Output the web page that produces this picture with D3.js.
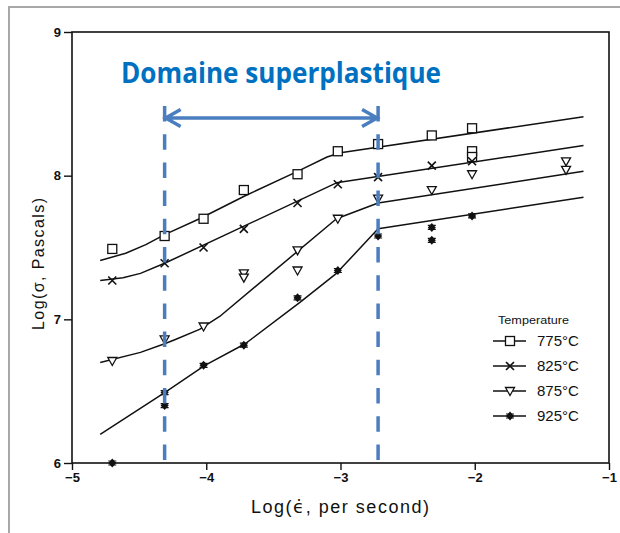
<!DOCTYPE html>
<html>
<head>
<meta charset="utf-8">
<script src="https://cdn.jsdelivr.net/npm/d3@7/dist/d3.min.js"></script>
<style>
  body { margin: 0; background: #fff; }
  svg { display: block; font-family: 'Liberation Sans', Arial, sans-serif; }
</style>
</head>
<body>
<div id="vis"></div>
<script>
// temperatures in the legend
var temps = ['775°C', '825°C', '875°C', '925°C'];
var markerKinds = ['square', 'cross', 'triangle', 'dot'];

// measured points [log strain rate, log stress]
var pts775 = [[-4.70, 7.49], [-4.31, 7.58], [-4.02, 7.70], [-3.72, 7.90], [-3.32, 8.01],
  [-3.02, 8.17], [-2.72, 8.22], [-2.32, 8.28], [-2.02, 8.33], [-2.02, 8.17], [-2.02, 8.13]];
var pts825 = [[-4.70, 7.27], [-4.31, 7.39], [-4.02, 7.50], [-3.72, 7.63], [-3.32, 7.81],
  [-3.02, 7.94], [-2.72, 7.99], [-2.32, 8.07], [-2.02, 8.10]];
var pts875 = [[-4.70, 6.71], [-4.31, 6.86], [-4.02, 6.95], [-3.72, 7.32], [-3.72, 7.29],
  [-3.32, 7.48], [-3.32, 7.34], [-3.02, 7.70], [-2.72, 7.84], [-2.32, 7.90], [-2.02, 8.01],
  [-1.32, 8.10], [-1.32, 8.04]];
var pts925 = [[-4.70, 6.00], [-4.31, 6.49], [-4.31, 6.40], [-4.02, 6.68], [-3.72, 6.82],
  [-3.32, 7.15], [-3.02, 7.34], [-2.72, 7.58], [-2.32, 7.64], [-2.32, 7.55], [-2.02, 7.72]];

// fitted curves
var fit775 = [[-4.79, 7.41], [-4.60, 7.46], [-4.45, 7.52], [-4.31, 7.59], [-4.05, 7.70],
  [-3.71, 7.86], [-3.32, 8.03], [-3.10, 8.13], [-3.00, 8.16], [-1.19, 8.41]];
var fit825 = [[-4.79, 7.27], [-4.62, 7.29], [-4.49, 7.32], [-4.31, 7.39], [-3.03, 7.95],
  [-1.19, 8.21]];
var fit875 = [[-4.79, 6.70], [-4.49, 6.77], [-4.31, 6.83], [-4.23, 6.86], [-4.05, 6.93],
  [-3.90, 7.02], [-3.03, 7.70], [-2.72, 7.81], [-1.19, 8.03]];
var fit925 = [[-4.79, 6.20], [-4.31, 6.49], [-4.01, 6.68], [-3.71, 6.83], [-3.30, 7.12],
  [-3.03, 7.32], [-2.72, 7.63], [-1.19, 7.85]];

var xTicks = [-5, -4, -3, -2, -1];
var yTicks = [6, 7, 8, 9];
var superBounds = [-4.31, -2.72];

var series = [
  {pts: pts775, fit: fit775},
  {pts: pts825, fit: fit825},
  {pts: pts875, fit: fit875},
  {pts: pts925, fit: fit925},
];

var width = 620;
var height = 533;
var ink = '#111';
var blue = '#4a7ebf';

var svg = d3.select('#vis').append('svg')
  .attr('width', width)
  .attr('height', height);

// grey border of the slide picture
svg.append('path')
  .attr('d', 'M9,540 L9,7 L630,7')
  .attr('fill', 'none')
  .attr('stroke', '#a8a8a8')
  .attr('stroke-width', 2);

var x = d3.scaleLinear().domain([-5, -1]).range([72, 609]);
var y = d3.scaleLinear().domain([6, 9]).range([463, 32]);

// frame
svg.append('rect')
  .attr('x', x(-5))
  .attr('y', y(9))
  .attr('width', x(-1) - x(-5))
  .attr('height', y(6) - y(9))
  .attr('fill', 'none')
  .attr('stroke', ink)
  .attr('stroke-width', 1.6);

function fmt(d) {
  return String(d).replace('-', '\u2212');
}

var xAxis = svg.append('g')
  .attr('transform', `translate(0,${y(6)})`)
  .call(d3.axisBottom(x).tickValues(xTicks).tickSize(7).tickPadding(3).tickFormat(fmt));
var yAxis = svg.append('g')
  .attr('transform', `translate(${x(-5)},0)`)
  .call(d3.axisLeft(y).tickValues(yTicks).tickSize(8).tickPadding(3).tickFormat(fmt));

[xAxis, yAxis].forEach(function(g) {
  g.select('.domain').remove();
  g.selectAll('line').attr('stroke', ink).attr('stroke-width', 1.4);
  g.selectAll('text')
    .attr('fill', ink)
    .style('font-size', '13px')
    .style('font-weight', 'bold')
    .style('font-family', "'Liberation Sans', Arial, sans-serif");
});

// axis titles
var xTitle = svg.append('text')
  .attr('x', 340)
  .attr('y', 513)
  .attr('text-anchor', 'middle')
  .attr('fill', ink)
  .attr('textLength', 178)
  .attr('lengthAdjust', 'spacing')
  .style('font-size', '18px');
xTitle.append('tspan').text('Log(');
xTitle.append('tspan').style('font-family', "'DejaVu Sans', sans-serif").text('\u03f5\u0307');
xTitle.append('tspan').text(', per second)');

svg.append('text')
  .attr('transform', 'translate(44,264) rotate(-90)')
  .attr('text-anchor', 'middle')
  .attr('fill', ink)
  .attr('textLength', 132)
  .attr('lengthAdjust', 'spacing')
  .style('font-size', '16px')
  .text('Log(\u03c3, Pascals)');

// fitted lines
var line = d3.line()
  .x(d => x(d[0]))
  .y(d => y(d[1]));

svg.selectAll('path.fit')
  .data(series)
  .enter()
  .append('path')
  .attr('class', 'fit')
  .attr('d', d => line(d.fit))
  .attr('fill', 'none')
  .attr('stroke', ink)
  .attr('stroke-width', 1.5)
  .attr('stroke-linejoin', 'round');

function drawMarker(g, kind, cx, cy) {
  if (kind == 'square') {
    g.append('rect')
      .attr('x', cx - 4.5).attr('y', cy - 4.5)
      .attr('width', 9).attr('height', 9)
      .attr('fill', '#fff').attr('stroke', ink).attr('stroke-width', 1.3);
  } else if (kind == 'cross') {
    g.append('path')
      .attr('d', `M${cx - 4},${cy - 4}L${cx + 4},${cy + 4}M${cx - 4},${cy + 4}L${cx + 4},${cy - 4}`)
      .attr('stroke', ink).attr('stroke-width', 1.6);
  } else if (kind == 'triangle') {
    g.append('path')
      .attr('d', `M${cx - 4.5},${cy - 3.5}L${cx + 4.5},${cy - 3.5}L${cx},${cy + 4.5}Z`)
      .attr('fill', '#fff').attr('stroke', ink).attr('stroke-width', 1.3);
  } else {
    g.append('path')
      .attr('d', `M${cx},${cy - 4.5}L${cx + 4},${cy}L${cx},${cy + 4.5}L${cx - 4},${cy}Z`)
      .attr('fill', ink);
    g.append('path')
      .attr('d', `M${cx - 4},${cy - 2}L${cx + 4},${cy - 2}M${cx - 4},${cy + 2}L${cx + 4},${cy + 2}`)
      .attr('stroke', ink).attr('stroke-width', 1.2);
  }
}

var markers = svg.append('g');
series.forEach(function(s, i) {
  s.pts.forEach(function(p) {
    drawMarker(markers, markerKinds[i], x(p[0]), y(p[1]));
  });
});

// legend
var legend = svg.append('g');
legend.append('text')
  .attr('x', 498)
  .attr('y', 324)
  .attr('fill', ink)
  .attr('textLength', 71)
  .attr('lengthAdjust', 'spacingAndGlyphs')
  .style('font-size', '11px')
  .text('Temperature');

var rowY = d3.scalePoint().domain(temps).range([341, 416]);
temps.forEach(function(t, i) {
  var ry = rowY(t);
  legend.append('line')
    .attr('x1', 493).attr('x2', 526)
    .attr('y1', ry).attr('y2', ry)
    .attr('stroke', ink).attr('stroke-width', 1.5);
  drawMarker(legend, markerKinds[i], 510, ry);
  legend.append('text')
    .attr('x', 537)
    .attr('y', ry)
    .attr('dy', '0.36em')
    .attr('fill', ink)
    .style('font-size', '15px')
    .text(t);
});

// superplastic domain overlay
var arrowY = 118;
svg.selectAll('line.bound')
  .data(superBounds)
  .enter()
  .append('line')
  .attr('class', 'bound')
  .attr('x1', d => x(d)).attr('x2', d => x(d))
  .attr('y1', 106).attr('y2', y(6))
  .attr('stroke', blue)
  .attr('stroke-width', 3.5)
  .attr('stroke-dasharray', '15.5,12.7');

var xa = x(superBounds[0]) + 1;
var xb = x(superBounds[1]) - 1;
svg.append('path')
  .attr('d', `M${xa},${arrowY}L${xb},${arrowY}` +
    `M${xa + 15},${arrowY - 8.5}L${xa},${arrowY}L${xa + 15},${arrowY + 8.5}` +
    `M${xb - 15},${arrowY - 8.5}L${xb},${arrowY}L${xb - 15},${arrowY + 8.5}`)
  .attr('fill', 'none')
  .attr('stroke', blue)
  .attr('stroke-width', 3.5);

svg.append('text')
  .attr('x', 121)
  .attr('y', 83)
  .attr('fill', '#0070c0')
  .attr('textLength', 320)
  .attr('lengthAdjust', 'spacingAndGlyphs')
  .style('font-family', "'Open Sans', 'Noto Sans', sans-serif")
  .style('font-weight', 'bold')
  .style('font-size', '28px')
  .text('Domaine superplastique');
</script>
</body>
</html>
